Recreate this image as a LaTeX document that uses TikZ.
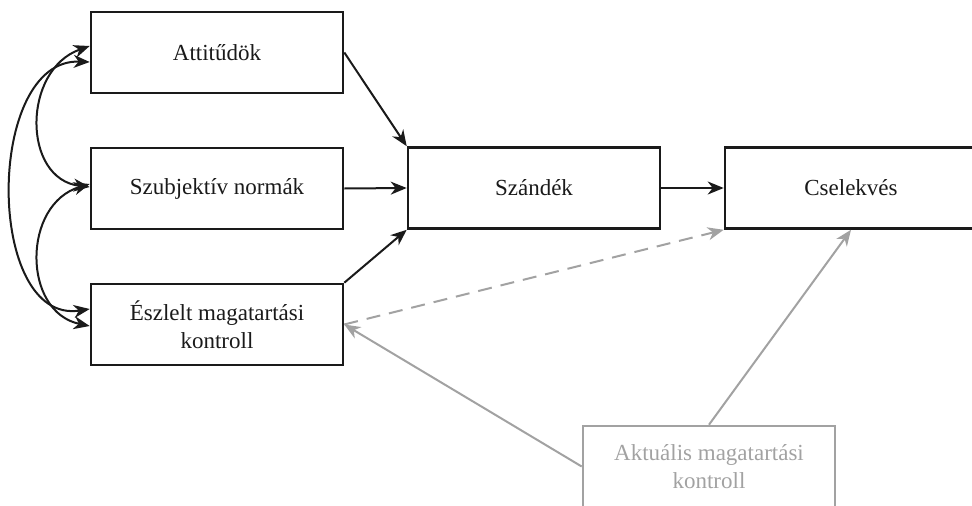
\documentclass[tikz,border=0pt]{standalone}
\usepackage{fontspec}
\setmainfont{Liberation Serif}
\usetikzlibrary{arrows.meta}
\definecolor{inkblack}{HTML}{1A1A1A}
\definecolor{softgray}{HTML}{A2A2A2}
\begin{document}
\begin{tikzpicture}[x=1pt,y=-1pt,
  box/.style={draw=inkblack,line width=2.6pt,minimum width=252pt,minimum height=81pt,
    inner sep=0pt,align=center,text=inkblack,font=\fontsize{23}{28}\selectfont},
  graybox/.style={box,draw=softgray,text=softgray},
  link/.style={draw=inkblack,line width=2pt,-{Stealth[length=16pt,width=13pt,inset=5pt]}},
  graylink/.style={draw=softgray,line width=2pt,-{Stealth[length=16pt,width=13pt,inset=5pt]}},
  corr/.style={draw=inkblack,line width=2pt,{Stealth[length=16pt,width=13pt,inset=5pt]}-{Stealth[length=16pt,width=13pt,inset=5pt]}}]
\useasboundingbox (0,0) rectangle (972,506);

% predictor boxes
\node[box] (att)  at (217,52.5)  {Attitűdök};
\node[box] (szub) at (217,188.5) {Szubjektív normák};
\node[box] (esz)  at (217,324.5) {Észlelt magatartási\\kontroll};
% intention, behaviour, actual control
\node[box] (szan) at (534,188) {Szándék};
\node[box] (csel) at (851,188) {Cselekvés};
\node[graybox] (akt) at (709,466.5) {Aktuális magatartási\\kontroll};

% correlations between the predictors
\coordinate (a1) at ([yshift=-9.5pt]att.west);
\coordinate (a2) at ([yshift=6.5pt]att.west);
\coordinate (s1) at ([yshift=1.5pt]szub.west);
\coordinate (s2) at ([yshift=4.5pt]szub.west);
\coordinate (e1) at ([yshift=-1.5pt]esz.west);
\coordinate (e2) at ([yshift=15.5pt]esz.west);
\draw[corr] (a1) .. controls (-15,58) and (-15,325) .. (e2);
\draw[corr] (a2) .. controls (22,70) and (22,179) .. (s1);
\draw[corr] (s2) .. controls (22,204) and (22,312) .. (e1);

% paths to intention and behaviour
\draw[link] (att.east) -- (szan.north west);
\draw[link] (szub.east) -- (szan.west);
\draw[link] (esz.north east) -- (szan.south west);
\draw[link] (szan.east) -- (csel.west);

% actual control paths
\draw[graylink,dash pattern=on 14pt off 9pt] (esz.east) -- (csel.south west);
\draw[graylink] (akt.west) -- (esz.east);
\draw[graylink] (akt.north) -- (csel.south);
\end{tikzpicture}
\end{document}
